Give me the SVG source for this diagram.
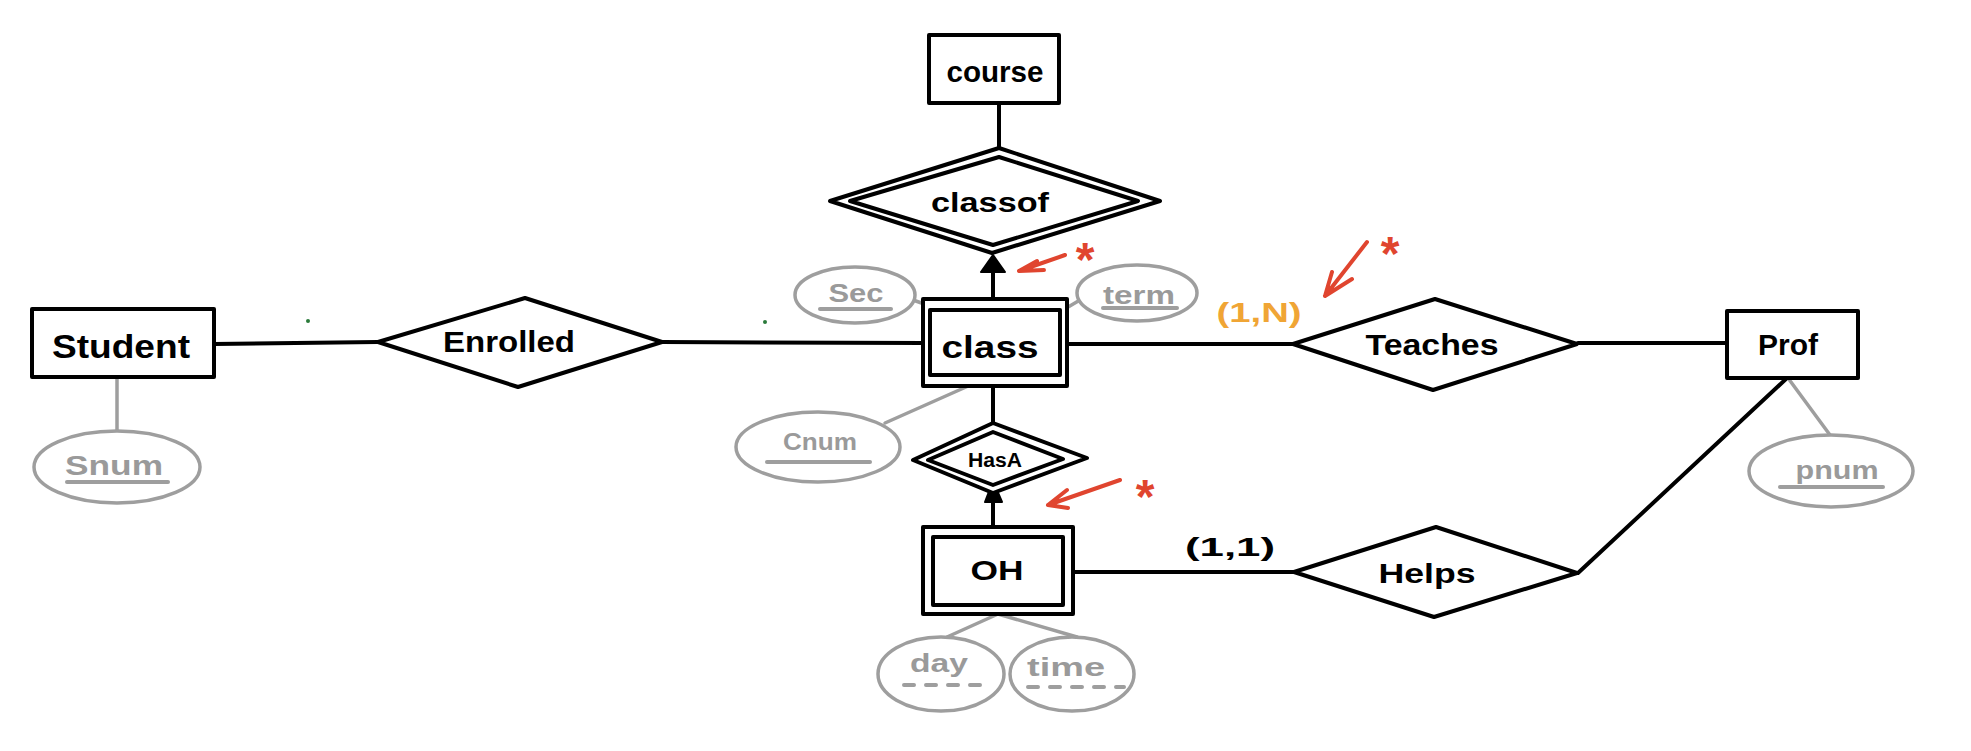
<svg xmlns="http://www.w3.org/2000/svg" width="1971" height="751" viewBox="0 0 1971 751">
<style>
.bk{fill:none;stroke:#000;stroke-width:4;stroke-linejoin:round;stroke-linecap:round}
.shape{fill:#fff;stroke:#000;stroke-width:4;stroke-linejoin:round}
.attr{fill:#fff;stroke:#9e9e9e;stroke-width:3.5}
.gl{fill:none;stroke:#9e9e9e;stroke-width:3.5;stroke-linecap:round}
.red{fill:none;stroke:#E0452F;stroke-width:4;stroke-linecap:round;stroke-linejoin:round}
.t{font-family:"Liberation Sans",Arial,sans-serif;font-weight:bold;fill:#000;text-anchor:middle}
.g{font-family:"Liberation Sans",Arial,sans-serif;font-weight:bold;fill:#9a9a9a;text-anchor:middle}
.star{font-family:"Liberation Sans",Arial,sans-serif;font-weight:bold;fill:#E0452F;text-anchor:middle}
.ul{fill:none;stroke:#9e9e9e;stroke-width:4;stroke-linecap:round}
.dash{fill:none;stroke:#9e9e9e;stroke-width:4;stroke-linecap:round;stroke-dasharray:10 12}
</style>
<rect width="1971" height="751" fill="#fff"/>

<g id="connectors">
  <line class="bk" x1="999" y1="103" x2="999" y2="148"/>
  <line class="bk" x1="993" y1="299" x2="993" y2="268"/>
  <polygon points="993,255 981,272 1005,272" fill="#000" stroke="#000" stroke-width="2" stroke-linejoin="round"/>
  <line class="bk" x1="214" y1="344" x2="378" y2="342"/>
  <line class="bk" x1="662" y1="342" x2="923" y2="343"/>
  <line class="bk" x1="1067" y1="344" x2="1293" y2="344"/>
  <line class="bk" x1="1578" y1="343" x2="1727" y2="343"/>
  <line class="bk" x1="993" y1="386" x2="993" y2="423"/>
  <line class="bk" x1="993" y1="527" x2="993" y2="496"/>
  <polygon points="993,481 985,502 1002,502" fill="#000" stroke="#000" stroke-width="2" stroke-linejoin="round"/>
  <line class="bk" x1="1073" y1="572" x2="1294" y2="572"/>
  <line class="bk" x1="1787" y1="378" x2="1578" y2="573"/>
  <line class="gl" x1="117" y1="377" x2="117" y2="432"/>
  <line class="gl" x1="913" y1="300" x2="930" y2="306"/>
  <line class="gl" x1="1080" y1="300" x2="1058" y2="313"/>
  <line class="gl" x1="885" y1="423" x2="993" y2="375"/>
  <line class="gl" x1="1788" y1="378" x2="1830" y2="435"/>
  <line class="gl" x1="998" y1="614" x2="947" y2="637"/>
  <line class="gl" x1="998" y1="614" x2="1077" y2="637"/>
</g>

<g id="course">
  <rect class="shape" x="929" y="35" width="130" height="68"/>
  <text class="t" x="995" y="82" font-size="30" textLength="97" lengthAdjust="spacingAndGlyphs">course</text>
</g>

<g id="classof">
  <polygon class="shape" points="830,201 999,148 1160,201 992,253"/>
  <polygon class="shape" points="850,201 999,157 1138,201 993,245"/>
  <text class="t" x="990" y="212" font-size="28" textLength="118" lengthAdjust="spacingAndGlyphs">classof</text>
</g>

<g id="student">
  <rect class="shape" x="32" y="309" width="182" height="68"/>
  <text class="t" x="121" y="358" font-size="34" textLength="138" lengthAdjust="spacingAndGlyphs">Student</text>
</g>

<g id="enrolled">
  <polygon class="shape" points="378,342 525,298 662,342 518,387"/>
  <text class="t" x="509" y="352" font-size="30" textLength="132" lengthAdjust="spacingAndGlyphs">Enrolled</text>
</g>

<g id="class">
  <rect class="shape" x="923" y="299" width="144" height="87"/>
  <rect class="shape" x="930" y="310" width="130" height="65"/>
  <text class="t" x="990" y="358" font-size="32" textLength="97" lengthAdjust="spacingAndGlyphs">class</text>
</g>

<g id="teaches">
  <polygon class="shape" points="1293,344 1435,299 1577,344 1433,390"/>
  <text class="t" x="1432" y="355" font-size="30" textLength="133" lengthAdjust="spacingAndGlyphs">Teaches</text>
</g>

<g id="prof">
  <rect class="shape" x="1727" y="311" width="131" height="67"/>
  <text class="t" x="1788" y="355" font-size="30" textLength="60" lengthAdjust="spacingAndGlyphs">Prof</text>
</g>

<g id="hasa">
  <polygon class="shape" points="913,460 993,423 1087,458 993,493"/>
  <polygon class="shape" points="928,460 993,432 1063,459 993,485"/>
  <text class="t" x="995" y="467" font-size="20" textLength="54" lengthAdjust="spacingAndGlyphs">HasA</text>
</g>

<g id="oh">
  <rect class="shape" x="923" y="527" width="150" height="87"/>
  <rect class="shape" x="933" y="537" width="130" height="68"/>
  <text class="t" x="997" y="580" font-size="28" textLength="53" lengthAdjust="spacingAndGlyphs">OH</text>
</g>

<g id="helps">
  <polygon class="shape" points="1294,572 1436,527 1577,573 1434,617"/>
  <text class="t" x="1427" y="583" font-size="28" textLength="97" lengthAdjust="spacingAndGlyphs">Helps</text>
</g>

<g id="snum">
  <ellipse class="attr" cx="117" cy="467" rx="83" ry="36"/>
  <text class="g" x="114" y="475" font-size="28" textLength="98" lengthAdjust="spacingAndGlyphs">Snum</text>
  <line class="ul" x1="67" y1="482" x2="168" y2="482"/>
</g>

<g id="sec">
  <ellipse class="attr" cx="855" cy="295" rx="60" ry="28"/>
  <text class="g" x="856" y="302" font-size="26" textLength="55" lengthAdjust="spacingAndGlyphs">Sec</text>
  <line class="ul" x1="820" y1="309" x2="891" y2="309"/>
</g>

<g id="term">
  <ellipse class="attr" cx="1137" cy="293" rx="60" ry="28"/>
  <text class="g" x="1139" y="304" font-size="26" textLength="72" lengthAdjust="spacingAndGlyphs">term</text>
  <line class="ul" x1="1103" y1="308" x2="1177" y2="308"/>
</g>

<g id="cnum">
  <ellipse class="attr" cx="818" cy="447" rx="82" ry="35"/>
  <text class="g" x="820" y="450" font-size="24" textLength="74" lengthAdjust="spacingAndGlyphs">Cnum</text>
  <line class="ul" x1="767" y1="462" x2="870" y2="462"/>
</g>

<g id="pnum">
  <ellipse class="attr" cx="1831" cy="471" rx="82" ry="36"/>
  <text class="g" x="1837" y="479" font-size="26" textLength="83" lengthAdjust="spacingAndGlyphs">pnum</text>
  <line class="ul" x1="1780" y1="487" x2="1883" y2="487"/>
</g>

<g id="day">
  <ellipse class="attr" cx="941" cy="674" rx="63" ry="37"/>
  <text class="g" x="939" y="672" font-size="26" textLength="58" lengthAdjust="spacingAndGlyphs">day</text>
  <line class="dash" x1="904" y1="685" x2="984" y2="685"/>
</g>

<g id="time">
  <ellipse class="attr" cx="1072" cy="674" rx="62" ry="37"/>
  <text class="g" x="1066" y="676" font-size="26" textLength="78" lengthAdjust="spacingAndGlyphs">time</text>
  <line class="dash" x1="1028" y1="687" x2="1124" y2="687"/>
</g>

<g id="labels">
  <text x="1259" y="322" font-family="Liberation Sans, Arial, sans-serif" font-weight="bold" font-size="28" fill="#F0A535" text-anchor="middle" textLength="85" lengthAdjust="spacingAndGlyphs">(1,N)</text>
  <text class="t" x="1230" y="556" font-size="26" textLength="90" lengthAdjust="spacingAndGlyphs">(1,1)</text>
</g>

<g id="annotations">
  <path class="red" d="M1065,255 L1019,271 M1019,271 L1037,261 M1019,271 L1044,270"/>
  <text class="star" x="1085" y="276" font-size="48">*</text>
  <path class="red" d="M1367,242 L1325,296 M1325,296 L1332,272 M1325,296 L1352,279"/>
  <text class="star" x="1390" y="270" font-size="48">*</text>
  <path class="red" d="M1120,480 L1048,505 M1048,505 L1067,490 M1048,505 L1068,508"/>
  <text class="star" x="1145" y="513" font-size="48">*</text>
  <circle cx="308" cy="321" r="2" fill="#2a7a3a"/>
  <circle cx="765" cy="322" r="2" fill="#2a7a3a"/>
</g>
</svg>
